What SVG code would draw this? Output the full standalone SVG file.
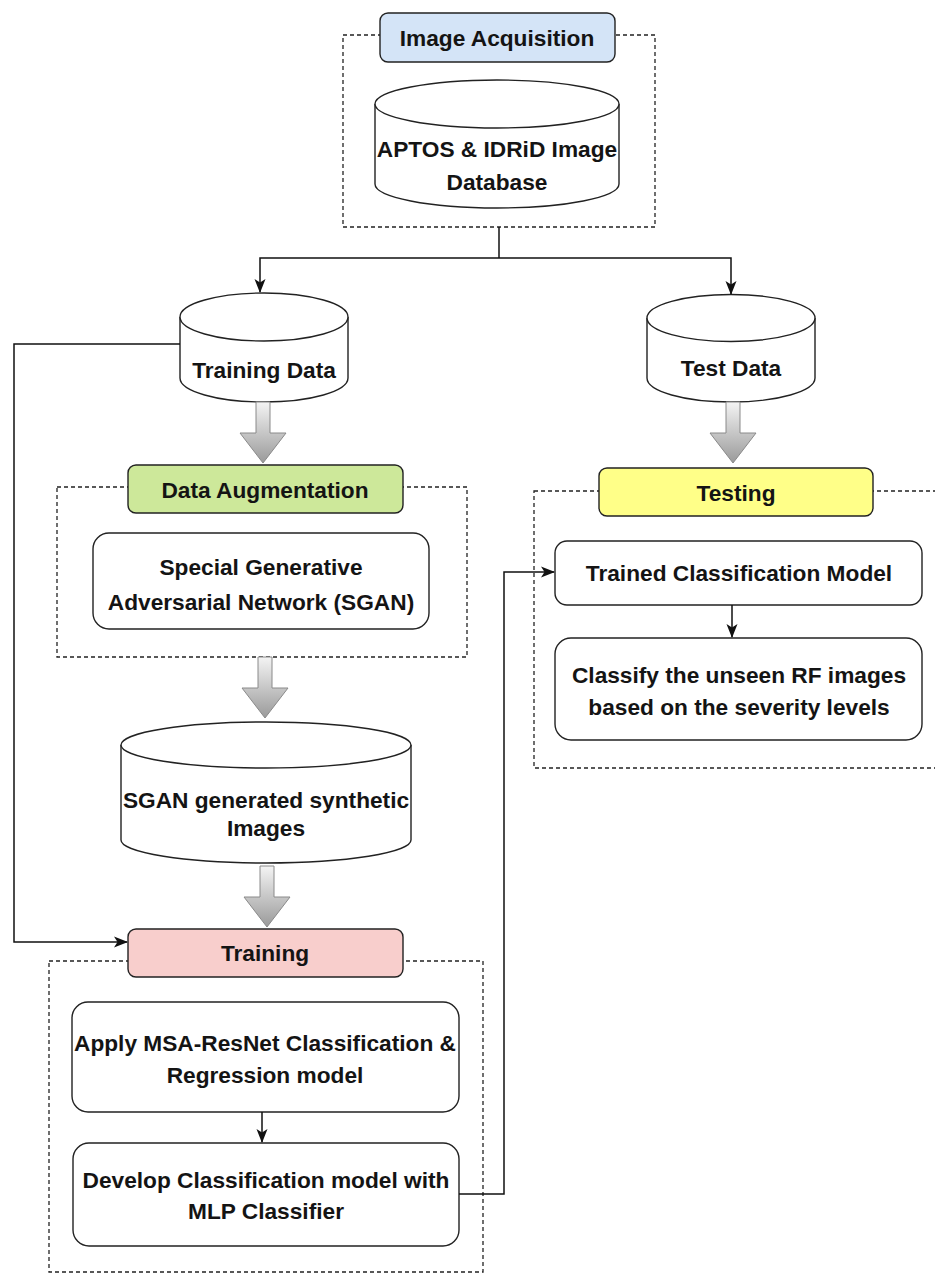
<svg xmlns="http://www.w3.org/2000/svg" width="935" height="1275" viewBox="0 0 935 1275">
<style>
.t{font-family:"Liberation Sans",Arial,sans-serif;font-weight:bold;font-size:22.7px;fill:#141414;text-anchor:middle}
.dash{fill:none;stroke:#222;stroke-width:1.3;stroke-dasharray:4 3}
.box{fill:#fff;stroke:#222;stroke-width:1.4}
.cyl{fill:#fff;stroke:#222;stroke-width:1.4}
.conn{fill:none;stroke:#111;stroke-width:1.5}
.big{fill:url(#gg);stroke:#8a8a8a;stroke-width:1}
</style>
<defs>
<marker id="ah" markerUnits="userSpaceOnUse" markerWidth="14" markerHeight="14" viewBox="0 0 14 14" refX="13" refY="7" orient="auto">
<path d="M0,1.5 L14,7 L0,12.5 L3.5,7 Z" fill="#111"/>
</marker>
<linearGradient id="gg" x1="0" y1="0" x2="0" y2="1">
<stop offset="0" stop-color="#f4f4f4"/>
<stop offset="1" stop-color="#9a9a9a"/>
</linearGradient>
<path id="bigArrow" d="M-7,0 L7,0 L7,31 L23,31 L0,61 L-23,31 L-7,31 Z"/>
</defs>

<g id="image-acquisition">
<rect class="dash" x="343" y="35" width="312" height="192"/>
<rect x="380" y="13" width="235" height="49" rx="8" fill="#d4e4f7" stroke="#222" stroke-width="1.4"/>
<text class="t" x="497" y="46">Image Acquisition</text>
</g>

<g id="aptos-db">
<path class="cyl" d="M375,104 A122,24 0 0 1 619,104 L619,184 A122,24 0 0 1 375,184 Z"/>
<path class="cyl" d="M375,104 A122,24 0 0 0 619,104" fill="none"/>
<text class="t" x="497" y="157">APTOS &amp; IDRiD Image</text>
<text class="t" x="497" y="190">Database</text>
</g>

<g id="training-data">
<path class="cyl" d="M180,317 A84,24 0 0 1 348,317 L348,378 A84,24 0 0 1 180,378 Z"/>
<path class="cyl" d="M180,317 A84,24 0 0 0 348,317" fill="none"/>
<text class="t" x="264" y="378">Training Data</text>
</g>

<g id="test-data">
<path class="cyl" d="M647,318 A84,23.5 0 0 1 815,318 L815,378 A84,24 0 0 1 647,378 Z"/>
<path class="cyl" d="M647,318 A84,23.5 0 0 0 815,318" fill="none"/>
<text class="t" x="731" y="376">Test Data</text>
</g>

<g id="data-augmentation">
<rect class="dash" x="57" y="487" width="410" height="170"/>
<rect x="128" y="465" width="275" height="48" rx="8" fill="#cde89a" stroke="#222" stroke-width="1.4"/>
<text class="t" x="265" y="498">Data Augmentation</text>
</g>

<g id="sgan">
<rect class="box" x="93" y="533" width="336" height="96" rx="16"/>
<text class="t" x="261" y="575">Special Generative</text>
<text class="t" x="261" y="610">Adversarial Network (SGAN)</text>
</g>

<g id="sgan-images">
<path class="cyl" d="M121,745 A145,23 0 0 1 411,745 L411,840 A145,23 0 0 1 121,840 Z"/>
<path class="cyl" d="M121,745 A145,23 0 0 0 411,745" fill="none"/>
<text class="t" x="266" y="808">SGAN generated synthetic</text>
<text class="t" x="266" y="836">Images</text>
</g>

<g id="training">
<rect class="dash" x="49" y="961" width="434" height="311"/>
<rect x="128" y="929" width="275" height="48" rx="8" fill="#f8cecc" stroke="#222" stroke-width="1.4"/>
<text class="t" x="265" y="961">Training</text>
</g>

<g id="apply-msa">
<rect class="box" x="72" y="1002" width="387" height="110" rx="16"/>
<text class="t" x="265" y="1051">Apply MSA-ResNet Classification &amp;</text>
<text class="t" x="265" y="1083">Regression model</text>
</g>

<g id="develop">
<rect class="box" x="73" y="1143" width="386" height="103" rx="16"/>
<text class="t" x="266" y="1188">Develop Classification model with</text>
<text class="t" x="266" y="1219">MLP Classifier</text>
</g>

<g id="testing">
<rect class="dash" x="534" y="491" width="410" height="277"/>
<rect x="599" y="468" width="274" height="48" rx="8" fill="#ffff88" stroke="#222" stroke-width="1.4"/>
<text class="t" x="736" y="501">Testing</text>
</g>

<g id="trained-model">
<rect class="box" x="555" y="541" width="367" height="64" rx="12"/>
<text class="t" x="739" y="581">Trained Classification Model</text>
</g>

<g id="classify">
<rect class="box" x="555" y="638" width="367" height="102" rx="16"/>
<text class="t" x="739" y="683">Classify the unseen RF images</text>
<text class="t" x="739" y="715">based on the severity levels</text>
</g>

<g id="connectors">
<path class="conn" d="M499,227 L499,258"/>
<path class="conn" d="M499,258 L260,258 L260,292" marker-end="url(#ah)"/>
<path class="conn" d="M499,258 L731,258 L731,294" marker-end="url(#ah)"/>
<path class="conn" d="M180,344 L14,344 L14,942 L127,942" marker-end="url(#ah)"/>
<path class="conn" d="M459,1194 L504,1194 L504,572 L554,572" marker-end="url(#ah)"/>
<path class="conn" d="M732,605 L732,637" marker-end="url(#ah)"/>
<path class="conn" d="M262,1112 L262,1142" marker-end="url(#ah)"/>
<use href="#bigArrow" class="big" x="263" y="402"/>
<use href="#bigArrow" class="big" x="733" y="402"/>
<use href="#bigArrow" class="big" x="265" y="657"/>
<use href="#bigArrow" class="big" x="267" y="866"/>
</g>
</svg>
